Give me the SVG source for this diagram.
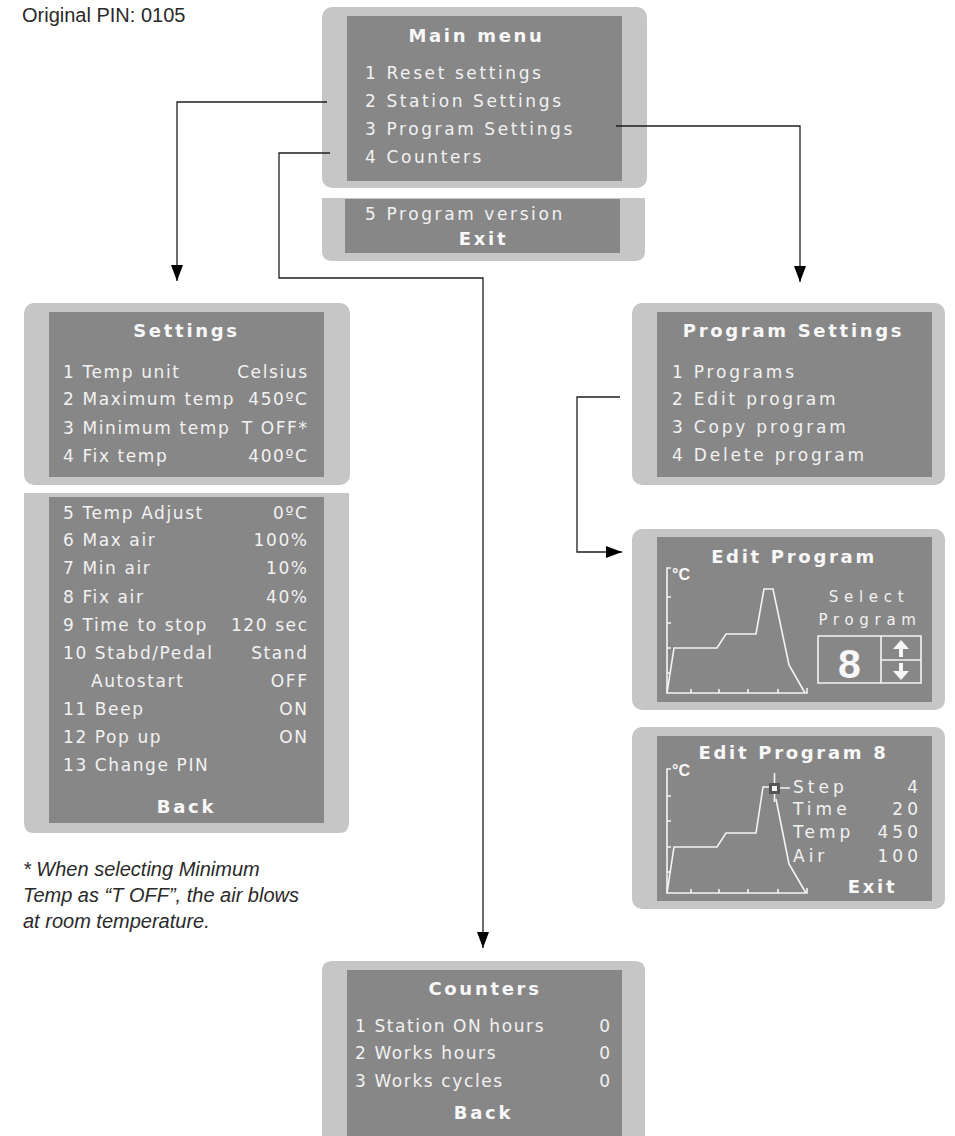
<svg xmlns="http://www.w3.org/2000/svg" width="955" height="1136" viewBox="0 0 955 1136">
<defs>
<style>
.outer{fill:#c6c6c6}
.inner{fill:#878787}
.t{font-family:"DejaVu Sans","Liberation Sans",sans-serif;font-size:17px;fill:#f2f2f2}
.h{font-family:"DejaVu Sans","Liberation Sans",sans-serif;font-size:18px;font-weight:bold;fill:#f8f8f8;letter-spacing:2.7px;text-anchor:middle}
.r{text-anchor:end}
.mm{letter-spacing:2.6px}
.st{letter-spacing:1.6px}
.ps{letter-spacing:2.8px}
.ct{letter-spacing:1.6px}
.ep{letter-spacing:4px}
.sel{font-size:15px;letter-spacing:5.7px;text-anchor:middle}
.deg{font-family:"Liberation Sans","DejaVu Sans",sans-serif;font-size:16px;font-weight:bold;fill:#f8f8f8}
.big{font-family:"Liberation Sans","DejaVu Sans",sans-serif;font-size:41px;font-weight:bold;fill:#f8f8f8;text-anchor:middle}
.wl{fill:none;stroke:#f4f4f4;stroke-width:1.6}
.conn{fill:none;stroke:#1e1e1e;stroke-width:1.3}
.note{font-family:"Liberation Sans","DejaVu Sans",sans-serif;font-size:20px;fill:#2a2a2a}
</style>
<marker id="arr" markerUnits="userSpaceOnUse" markerWidth="16" markerHeight="12" viewBox="0 0 16 12" refX="16" refY="6" orient="auto">
<path d="M0,0 L16,6 L0,12 Z" fill="#000"/>
</marker>
</defs>

<text class="note" x="22" y="22">Original PIN: 0105</text>

<g id="main-menu">
<rect class="outer" x="322" y="7" width="325" height="181" rx="10"/>
<rect class="inner" x="347" y="16" width="275" height="165"/>
<text class="h" x="476.5" y="42">Main menu</text>
<text class="t mm" x="365" y="79">1 Reset settings</text>
<text class="t mm" x="365" y="107">2 Station Settings</text>
<text class="t mm" x="365" y="135">3 Program Settings</text>
<text class="t mm" x="365" y="163">4 Counters</text>
</g>

<g id="main-menu-more">
<path class="outer" d="M322,198 H645 V251 Q645,261 635,261 H332 Q322,261 322,251 Z"/>
<rect class="inner" x="345" y="199" width="275" height="54"/>
<text class="t mm" x="365" y="220">5 Program version</text>
<text class="h" x="483.5" y="245">Exit</text>
</g>

<g id="settings">
<rect class="outer" x="24" y="303" width="326" height="182" rx="10"/>
<rect class="inner" x="49" y="312" width="275" height="165"/>
<text class="h" x="186.5" y="337">Settings</text>
<text class="t st" x="63" y="378">1 Temp unit</text>
<text class="t st r" x="308.6" y="378">Celsius</text>
<text class="t st" x="63" y="405">2 Maximum temp</text>
<text class="t st r" x="308.6" y="405">450ºC</text>
<text class="t st" x="63" y="434">3 Minimum temp</text>
<text class="t st r" x="308.6" y="434">T OFF*</text>
<text class="t st" x="63" y="462">4 Fix temp</text>
<text class="t st r" x="308.6" y="462">400ºC</text>
</g>

<g id="settings-more">
<path class="outer" d="M24,493 H349 V823 Q349,833 339,833 H34 Q24,833 24,823 Z"/>
<rect class="inner" x="49" y="497" width="275" height="326"/>
<text class="t st" x="63" y="519">5 Temp Adjust</text>
<text class="t st r" x="308.6" y="519">0ºC</text>
<text class="t st" x="63" y="546">6 Max air</text>
<text class="t st r" x="308.6" y="546">100%</text>
<text class="t st" x="63" y="574">7 Min air</text>
<text class="t st r" x="308.6" y="574">10%</text>
<text class="t st" x="63" y="603">8 Fix air</text>
<text class="t st r" x="308.6" y="603">40%</text>
<text class="t st" x="63" y="631">9 Time to stop</text>
<text class="t st r" x="308.6" y="631">120 sec</text>
<text class="t st" x="63" y="659">10 Stabd/Pedal</text>
<text class="t st r" x="308.6" y="659">Stand</text>
<text class="t st" x="91" y="687">Autostart</text>
<text class="t st r" x="308.6" y="687">OFF</text>
<text class="t st" x="63" y="715">11 Beep</text>
<text class="t st r" x="308.6" y="715">ON</text>
<text class="t st" x="63" y="743">12 Pop up</text>
<text class="t st r" x="308.6" y="743">ON</text>
<text class="t st" x="63" y="771">13 Change PIN</text>
<text class="h" x="186.5" y="813">Back</text>
</g>

<text class="note" font-style="italic"><tspan x="23" y="876">* When selecting Minimum</tspan><tspan x="23" y="902">Temp as “T OFF”, the air blows</tspan><tspan x="23" y="928">at room temperature.</tspan></text>

<g id="program-settings">
<rect class="outer" x="632" y="303" width="313" height="182" rx="10"/>
<rect class="inner" x="657" y="312" width="275" height="165"/>
<text class="h" x="793.5" y="337">Program Settings</text>
<text class="t ps" x="672" y="378">1 Programs</text>
<text class="t ps" x="672" y="405">2 Edit program</text>
<text class="t ps" x="672" y="433">3 Copy program</text>
<text class="t ps" x="672" y="461">4 Delete program</text>
</g>

<g id="edit-program">
<rect class="outer" x="632" y="529" width="313" height="181" rx="10"/>
<rect class="inner" x="657" y="537" width="275" height="165"/>
<text class="h" x="794" y="563">Edit Program</text>
<text class="deg" x="672" y="580">°C</text>
<path class="wl" d="M671,568 H667 V693 H807 V688 M667,597 h4 M667,623 h4 M667,648 h4 M667,673 h4 M691,693 v-4 M719,693 v-4 M748,693 v-4 M778,693 v-4"/>
<polyline class="wl" points="667,693 674,648 717,648 726,634 756,634 764,589 773,589 789,665 805,693"/>
<text class="t sel" x="869" y="602">Select</text>
<text class="t sel" x="870" y="625">Program</text>
<path class="wl" d="M818,636 H921 V683 H818 Z M881,636 V683 M881,660 H921"/>
<text class="big" x="849.5" y="678">8</text>
<path d="M901,640 L909,649 L903,649 L903,657 L899,657 L899,649 L893,649 Z" fill="#f8f8f8"/>
<path d="M901,680 L909,671 L903,671 L903,663 L899,663 L899,671 L893,671 Z" fill="#f8f8f8"/>
</g>

<g id="edit-program-8">
<rect class="outer" x="632" y="727" width="313" height="182" rx="10"/>
<rect class="inner" x="657" y="736" width="275" height="165"/>
<text class="h" x="793.5" y="759">Edit Program 8</text>
<text class="deg" x="672" y="776">°C</text>
<path class="wl" d="M671,769 H667 V893 H807 V888 M667,796 h4 M667,821 h4 M667,847 h4 M667,872 h4 M691,893 v-4 M719,893 v-4 M748,893 v-4 M778,893 v-4"/>
<polyline class="wl" points="667,893 674,847 717,847 726,833 756,833 763,787 770,787"/>
<polyline class="wl" points="776,799 789,864 806,893"/>
<path class="wl" d="M774.5,773 V802 M780,788 H790" stroke-width="1.3"/>
<rect x="769" y="783" width="11" height="11" fill="#555"/>
<rect x="772" y="786" width="5" height="5" fill="#f8f8f8"/>
<text class="t ep" x="793" y="793">Step</text>
<text class="t ep r" x="922" y="793">4</text>
<text class="t ep" x="793" y="815">Time</text>
<text class="t ep r" x="922" y="815">20</text>
<text class="t ep" x="793" y="838">Temp</text>
<text class="t ep r" x="922" y="838">450</text>
<text class="t ep" x="793" y="862">Air</text>
<text class="t ep r" x="922" y="862">100</text>
<text class="h" x="872.5" y="893">Exit</text>
</g>

<g id="counters">
<path class="outer" d="M322,971 Q322,961 332,961 H635 Q645,961 645,971 V1136 H322 Z"/>
<rect class="inner" x="347" y="970" width="275" height="166"/>
<text class="h" x="485" y="995">Counters</text>
<text class="t ct" x="355" y="1032">1 Station ON hours</text>
<text class="t ct r" x="611.6" y="1032">0</text>
<text class="t ct" x="355" y="1059">2 Works hours</text>
<text class="t ct r" x="611.6" y="1059">0</text>
<text class="t ct" x="355" y="1087">3 Works cycles</text>
<text class="t ct r" x="611.6" y="1087">0</text>
<text class="h" x="483.5" y="1119">Back</text>
</g>

<g id="connectors">
<path class="conn" d="M327,102 H177 V281" marker-end="url(#arr)"/>
<path class="conn" d="M330,153 H279 V278 H483 V948" marker-end="url(#arr)"/>
<path class="conn" d="M616,126 H800 V282" marker-end="url(#arr)"/>
<path class="conn" d="M620,397 H577 V552 H622" marker-end="url(#arr)"/>
</g>
</svg>
